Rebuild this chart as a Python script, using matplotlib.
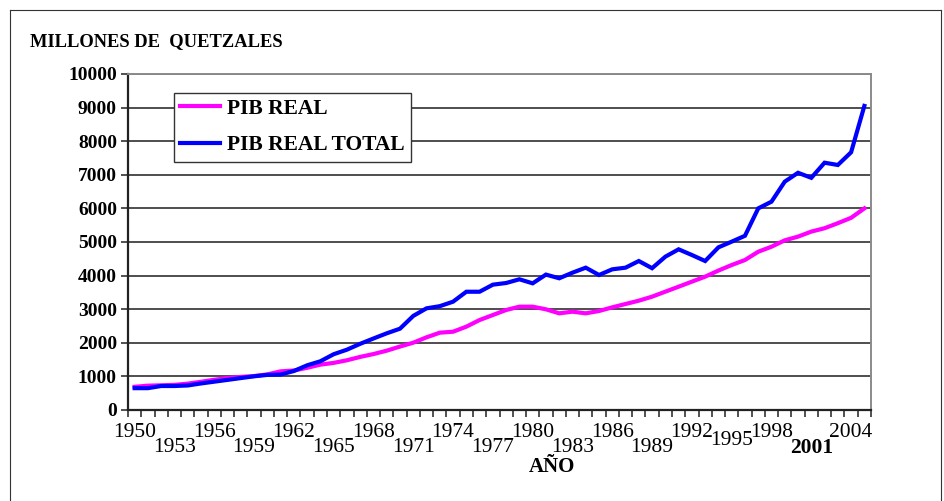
import matplotlib
matplotlib.use("Agg")
import matplotlib.pyplot as plt
from matplotlib.lines import Line2D
import numpy as np

years = list(range(1950, 2006))
pib_real = [690, 724, 735, 748, 785, 840, 900, 950, 985, 1010,
            1060, 1150, 1175, 1255, 1350, 1402, 1480, 1580, 1665, 1766,
            1888, 2003, 2163, 2301, 2330, 2480, 2678, 2827, 2976, 3075,
            3075, 2997, 2877, 2926, 2877, 2946, 3056, 3155, 3254, 3373,
            3522, 3670, 3820, 3968, 4150, 4315, 4464, 4710, 4860, 5050,
            5160, 5310, 5410, 5560, 5720, 6000]
pib_real_total = [650, 650, 714, 714, 730, 790, 843, 896, 950, 1003,
                  1045, 1055, 1160, 1330, 1450, 1660, 1795, 1970, 2128, 2282,
                  2420, 2800, 3026, 3090, 3224, 3520, 3520, 3730, 3780, 3890,
                  3770, 4030, 3920, 4087, 4236, 4018, 4187, 4236, 4434, 4220,
                  4563, 4782, 4613, 4434, 4841, 5010, 5185, 6000, 6200, 6796,
                  7060, 6910, 7360, 7292, 7670, 9050]
label_years = list(range(1950, 2005, 3))
series_names = ["PIB REAL", "PIB REAL TOTAL"]

W, H = 944, 501
fig = plt.figure(figsize=(W / 100, H / 100), dpi=100)
serif = ["Liberation Serif", "DejaVu Serif"]

ax = fig.add_axes([128 / W, 1 - 410 / H, 743 / W, 336 / H])
x = np.arange(len(years))
ax.plot(x, pib_real, color="#FF00FF", lw=3.0, solid_joinstyle="miter", label=series_names[0], zorder=3)
ax.plot(x, pib_real_total, color="#0000FF", lw=3.0, solid_joinstyle="miter", label=series_names[1], zorder=4)

ax.set_xlim(-0.5, len(years) - 0.5)
ax.set_ylim(0, 10000)
ax.set_yticks(range(0, 10001, 1000))
ax.yaxis.grid(True, color="#404040", lw=1.3)
ax.set_axisbelow(True)
ax.set_yticklabels([str(v) for v in range(0, 10001, 1000)], fontfamily=serif,
                   fontweight="bold", fontsize=14)
ax.tick_params(axis="y", length=5, width=1.2, color="#333333", pad=3)

ax.set_xticks(np.arange(-0.5, len(years), 1.0))
ax.set_xticklabels([])
ax.tick_params(axis="x", length=5, width=1.2, color="#333333", direction="out")

for s in ["left", "bottom"]:
    ax.spines[s].set_color("#222222")
    ax.spines[s].set_linewidth(1.6)
for s in ["top", "right"]:
    ax.spines[s].set_color("#8a8a8a")
    ax.spines[s].set_linewidth(1.4)

trans = ax.get_xaxis_transform()
for i, yr in enumerate(label_years):
    idx = years.index(yr)
    if i % 2 == 0:
        yy = -0.068
    else:
        yy = -0.112
    if yr == 1995:
        yy = -0.092
    ax.text(idx, yy, str(yr), transform=trans, ha="center", va="center",
            fontfamily=serif, fontsize=15.5,
            fontweight="bold" if yr == 2001 else "normal", clip_on=False)

fig.text(30 / W, 1 - 42 / H, "MILLONES DE  QUETZALES", fontfamily=serif,
         fontweight="bold", fontsize=13.3, ha="left", va="center")
fig.text(552 / W, 1 - 467 / H, "AÑO", fontfamily=serif, fontweight="bold",
         fontsize=15, ha="center", va="center")

leg = ax.legend(loc="upper left", bbox_to_anchor=(174 / W, 1 - 92.5 / H),
                bbox_transform=fig.transFigure, borderaxespad=0, frameon=True,
                fancybox=False, edgecolor="#333333", framealpha=1, borderpad=0.3,
                handlelength=1.85, handletextpad=0.3, labelspacing=0.75,
                prop={"family": serif, "weight": "bold", "size": 15.5})
leg.get_frame().set_linewidth(1.0)
for h in leg.get_lines():
    h.set_linewidth(3.0)

# outer frame of the figure
for (x0, y0, x1, y1) in [(10, 10, 941, 10), (10, 10, 10, 501), (941, 10, 941, 501)]:
    fig.add_artist(Line2D([x0 / W, x1 / W], [1 - y0 / H, 1 - y1 / H],
                          transform=fig.transFigure, color="#333333", lw=0.8))

fig.savefig("out.png", dpi=100)
